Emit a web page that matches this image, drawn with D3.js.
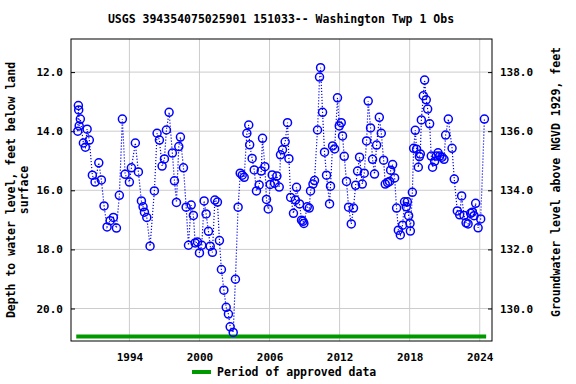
<!DOCTYPE html>
<html>
<head>
<meta charset="utf-8">
<script src="https://cdn.jsdelivr.net/npm/d3@7"></script>
<style>
  body { margin: 0; background: #fff; }
  text { font-family: "DejaVu Sans Mono", monospace; font-weight: bold; }
</style>
</head>
<body>
<svg width="576" height="384"></svg>
<script>
// observation dates (decimal year) and depth to water, feet below land surface
const obsYear = [
  1989.58, 1989.63, 1989.66, 1989.70, 1989.80, 1990.06, 1990.23, 1990.38, 1990.57, 1990.83,
  1991.06, 1991.38, 1991.60, 1991.83, 1992.09, 1992.35, 1992.63, 1992.89, 1993.14, 1993.40,
  1993.63, 1994.00, 1994.17, 1994.51, 1994.77, 1995.03, 1995.17, 1995.29, 1995.49, 1995.77,
  1996.14, 1996.37, 1996.57, 1996.80, 1997.00, 1997.17, 1997.40, 1997.68, 1997.86, 1998.03,
  1998.23, 1998.37, 1998.63, 1998.86, 1999.06, 1999.29, 1999.48, 1999.63, 1999.83, 2000.00,
  2000.20, 2000.40, 2000.57, 2000.77, 2000.92, 2001.11, 2001.32, 2001.54, 2001.71, 2001.88,
  2002.09, 2002.29, 2002.48, 2002.63, 2002.89, 2003.08, 2003.31, 2003.49, 2003.66, 2003.83,
  2004.06, 2004.22, 2004.30, 2004.51, 2004.69, 2004.88, 2005.11, 2005.29, 2005.40, 2005.60,
  2005.74, 2005.89, 2006.06, 2006.23, 2006.43, 2006.63, 2006.83, 2006.94, 2007.11, 2007.34,
  2007.54, 2007.66, 2007.81, 2008.05, 2008.22, 2008.31, 2008.57, 2008.74, 2008.86, 2008.94,
  2009.23, 2009.40, 2009.51, 2009.72, 2009.85, 2010.11, 2010.28, 2010.37, 2010.54, 2010.71,
  2010.88, 2011.14, 2011.22, 2011.40, 2011.57, 2011.82, 2011.97, 2012.14, 2012.25, 2012.40,
  2012.59, 2012.77, 2013.00, 2013.19, 2013.37, 2013.54, 2013.71, 2013.94, 2014.11, 2014.31,
  2014.45, 2014.65, 2014.82, 2014.99, 2015.17, 2015.40, 2015.57, 2015.77, 2015.91, 2016.11,
  2016.28, 2016.37, 2016.54, 2016.71, 2016.88, 2017.03, 2017.20, 2017.39, 2017.56, 2017.71,
  2017.80, 2017.91, 2018.03, 2018.06, 2018.23, 2018.34, 2018.48, 2018.59, 2018.74, 2018.83,
  2018.91, 2019.00, 2019.17, 2019.28, 2019.42, 2019.54, 2019.71, 2019.85, 2019.96, 2020.14,
  2020.28, 2020.43, 2020.57, 2020.77, 2020.94, 2021.08, 2021.31, 2021.63, 2021.82, 2022.08,
  2022.28, 2022.45, 2022.65, 2022.83, 2023.00, 2023.22, 2023.37, 2023.51, 2023.65, 2023.86,
  2024.08, 2024.40
];
const obsDepth = [
  14.00, 13.13, 13.28, 13.82, 13.59, 14.40, 14.54, 13.93, 14.30, 15.49,
  15.72, 15.07, 15.65, 16.53, 17.24, 17.03, 16.92, 17.28, 16.17, 13.59,
  15.46, 15.72, 15.24, 14.40, 15.38, 16.36, 16.56, 16.74, 16.92, 17.89,
  16.02, 14.07, 14.30, 15.18, 14.94, 13.96, 13.36, 14.74, 15.68, 16.41,
  14.52, 14.20, 15.24, 16.57, 17.86, 16.50, 16.85, 17.78, 17.75, 18.12,
  17.86, 16.36, 16.80, 17.39, 17.89, 18.10, 16.33, 16.40, 17.70, 18.68,
  19.38, 19.96, 20.19, 20.62, 20.81, 19.01, 16.57, 15.42, 15.49, 15.56,
  14.07, 13.79, 14.46, 14.92, 15.31, 16.02, 15.82, 15.35, 14.24, 15.20,
  16.31, 16.63, 15.80, 15.48, 15.76, 15.52, 15.89, 14.80, 14.63, 14.36,
  13.71, 14.93, 16.24, 16.78, 16.33, 15.90, 16.46, 17.01, 17.05, 17.12,
  16.56, 16.60, 16.02, 15.79, 15.67, 13.96, 12.17, 11.85, 13.36, 14.71,
  15.49, 16.46, 15.86, 14.50, 14.60, 12.87, 13.82, 13.71, 14.16, 14.85,
  15.70, 16.57, 17.14, 16.60, 15.83, 15.35, 14.88, 15.79, 15.42, 14.33,
  12.98, 13.89, 14.95, 15.45, 14.47, 13.53, 14.07, 14.98, 15.79, 15.74,
  15.70, 15.32, 15.13, 15.58, 16.60, 17.35, 17.51, 17.18, 16.39, 16.56,
  16.39, 16.86, 17.12, 17.38, 16.07, 14.58, 13.97, 14.61, 15.22, 14.86,
  14.77, 13.62, 12.80, 12.27, 12.94, 13.25, 13.75, 14.84, 15.22, 15.02,
  14.84, 14.73, 14.84, 14.88, 14.95, 14.13, 13.59, 14.58, 15.62, 16.70,
  16.83, 16.19, 16.85, 17.10, 17.14, 16.78, 16.74, 16.86, 16.44, 17.27,
  16.97, 13.59
];

const yearTicks = [1994, 2000, 2006, 2012, 2018, 2024];
const depthTicks = [12, 14, 16, 18, 20];
const elevTicks = [130, 132, 134, 136, 138];
const approvedPeriod = [1989.45, 2024.55];
const datumOffset = 150; // land surface elevation, ft above NGVD 1929

const data = obsYear.map((y, i) => ({ year: y, depth: obsDepth[i] }));

const svg = d3.select('svg');
const margin = { left: 71, right: 84, top: 39, bottom: 43 };
const width = 576 - margin.left - margin.right;
const height = 384 - margin.top - margin.bottom;

const x = d3.scaleLinear().domain([1989.0, 2025.05]).range([0, width]);
const y = d3.scaleLinear().domain([10.88, 21.1]).range([0, height]);
const yRight = d3.scaleLinear()
    .domain([datumOffset - 10.88, datumOffset - 21.1])
    .range([0, height]);

const g = svg.append('g')
    .attr('transform', 'translate(' + margin.left + ',' + margin.top + ')');

// grid
g.append('g').selectAll('line')
  .data(yearTicks)
  .enter().append('line')
    .attr('x1', d => x(d)).attr('x2', d => x(d))
    .attr('y1', 0).attr('y2', height)
    .style('stroke', '#cccccc');

g.append('g').selectAll('line')
  .data(depthTicks)
  .enter().append('line')
    .attr('x1', 0).attr('x2', width)
    .attr('y1', d => y(d)).attr('y2', d => y(d))
    .style('stroke', '#cccccc');

// axes
const xAxis = g.append('g')
    .attr('transform', 'translate(0,' + height + ')')
    .call(d3.axisBottom(x).tickValues(yearTicks).tickFormat(d3.format('d')).tickSize(0).tickPadding(12));

const yAxis = g.append('g')
    .call(d3.axisLeft(y).tickValues(depthTicks).tickFormat(d3.format('.1f')).tickSize(-4).tickPadding(8));

const yAxisR = g.append('g')
    .attr('transform', 'translate(' + width + ',0)')
    .call(d3.axisRight(yRight).tickValues(elevTicks).tickFormat(d3.format('.1f')).tickSize(-4).tickPadding(8));

[xAxis, yAxis, yAxisR].forEach(a => {
  a.select('.domain').remove();
  a.selectAll('text').style('font-size', '11px').style('fill', '#000')
    .style('font-family', '"DejaVu Sans Mono", monospace').style('font-weight', 'bold');
  a.selectAll('line').style('stroke', '#000');
});

// approved period bar
g.append('line')
    .attr('x1', x(approvedPeriod[0])).attr('x2', x(approvedPeriod[1]))
    .attr('y1', height - 4.5).attr('y2', height - 4.5)
    .style('stroke', '#009900')
    .style('stroke-width', 4);

// dotted line joining observations
const line = d3.line()
    .x(d => x(d.year))
    .y(d => y(d.depth));

g.append('path')
    .datum(data)
    .attr('d', line)
    .style('fill', 'none')
    .style('stroke', '#0000ff')
    .style('stroke-width', 1.2)
    .style('stroke-dasharray', '1.2,1.8');

// markers
g.selectAll('.dot')
  .data(data)
  .enter().append('circle')
    .attr('class', 'dot')
    .attr('cx', d => x(d.year))
    .attr('cy', d => y(d.depth))
    .attr('r', 4)
    .style('fill', 'none')
    .style('stroke', '#0000ff')
    .style('stroke-width', 1.5);

// frame
g.append('rect')
    .attr('width', width).attr('height', height)
    .style('fill', 'none')
    .style('stroke', '#000')
    .style('stroke-width', 1);

// title
svg.append('text')
    .attr('x', 281).attr('y', 23)
    .attr('text-anchor', 'middle')
    .style('font-size', '11.5px')
    .text('USGS 394354075025901 151033-- Washington Twp 1 Obs');

// axis titles
svg.append('text')
    .attr('transform', 'translate(15,' + (margin.top + height / 2) + ') rotate(-90)')
    .attr('text-anchor', 'middle')
    .style('font-size', '11.5px')
    .text('Depth to water level, feet below land');
svg.append('text')
    .attr('transform', 'translate(28,' + (margin.top + height / 2) + ') rotate(-90)')
    .attr('text-anchor', 'middle')
    .style('font-size', '11.5px')
    .text('surface');

svg.append('text')
    .attr('transform', 'translate(560,' + (margin.top + height / 2 - 8) + ') rotate(-90)')
    .attr('text-anchor', 'middle')
    .style('font-size', '11.5px')
    .text('Groundwater level above NGVD 1929, feet');

// legend
svg.append('line')
    .attr('x1', 192).attr('x2', 211)
    .attr('y1', 372).attr('y2', 372)
    .style('stroke', '#009900')
    .style('stroke-width', 4);
svg.append('text')
    .attr('x', 217).attr('y', 376)
    .style('font-size', '11.5px')
    .text('Period of approved data');
</script>
</body>
</html>
